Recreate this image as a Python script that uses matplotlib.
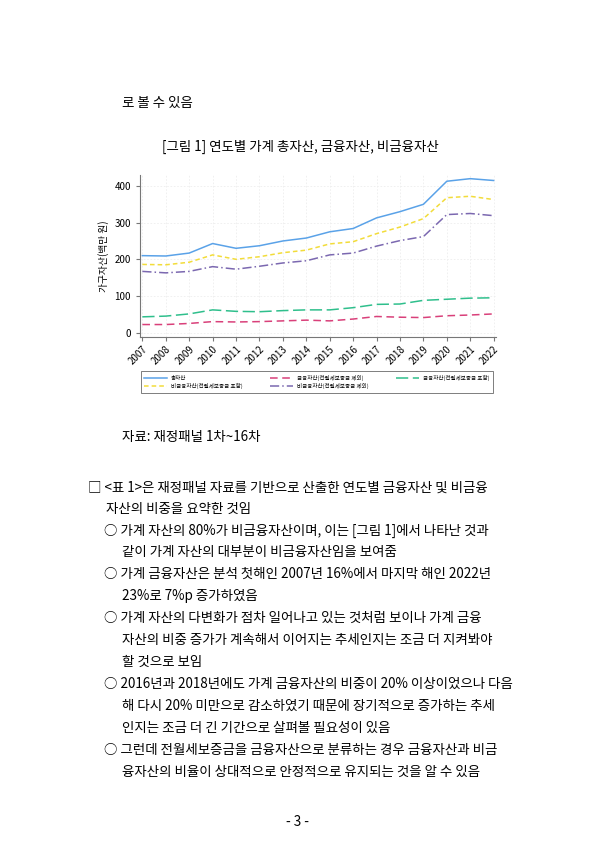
import matplotlib
matplotlib.use("Agg")
import matplotlib.pyplot as plt

plt.rcParams['font.family'] = ['Noto Sans CJK KR', 'DejaVu Sans']

years = list(range(2007, 2023))
total = [210,209,217,243,230,237,250,258,275,284,313,330,350,413,420,415]
fin_excl = [22,22,25,30,29,30,32,34,32,37,44,42,41,46,48,51]
fin_incl = [43,45,51,62,58,57,60,62,62,68,77,78,88,91,94,95]
nonfin_incl = [186,185,192,212,200,207,218,225,242,248,270,288,311,368,372,363]
nonfin_excl = [167,163,167,180,173,181,190,196,212,217,236,251,262,322,325,319]
labels = ['총자산', '금융자산(전월세보증금 제외)', '금융자산(전월세보증금 포함)',
          '비금융자산(전월세보증금 포함)', '비금융자산(전월세보증금 제외)']

W, H = 596, 842
fig = plt.figure(figsize=(W/100, H/100), dpi=100)
fig.patch.set_facecolor('white')

def T(x, y, s, size=9.7, **kw):
    fig.text(x/W, 1-y/H, s, fontsize=size, va='center', ha=kw.pop('ha', 'left'), **kw)

T(122, 103, '로 볼 수 있음')
T(300, 147, '[그림 1] 연도별 가계 총자산, 금융자산, 비금융자산', ha='center')

ax = fig.add_axes([140/W, 1-337/H, 356/W, 162/H])
h0, = ax.plot(years, total, color='#5aa2e8', lw=1.1, label=labels[0])
h1, = ax.plot(years, fin_excl, color='#d9407a', lw=1.1, ls=(0, (5, 3)), label=labels[1])
h2, = ax.plot(years, fin_incl, color='#2fbf8c', lw=1.1, ls=(0, (8, 3)), label=labels[2])
h3, = ax.plot(years, nonfin_incl, color='#f2dc3a', lw=1.1, ls=(0, (3, 2)), label=labels[3])
h4, = ax.plot(years, nonfin_excl, color='#7b68b0', lw=1.1, ls=(0, (6, 2, 1, 2)), label=labels[4])
ax.set_xlim(2006.9, 2022.1)
ax.set_ylim(-12, 430)
ax.set_yticks([0, 100, 200, 300, 400])
ax.set_xticks(years)
ax.set_xticklabels([str(y) for y in years], rotation=45, ha='right', rotation_mode='anchor', fontsize=7)
ax.tick_params(axis='both', length=3, color='#777777')
ax.tick_params(axis='y', labelsize=7)
ax.tick_params(axis='x', pad=2)
ax.grid(True, color='#eeeeee', lw=0.6, ls=(0, (2, 2)))
for s in ['top', 'right']:
    ax.spines[s].set_visible(False)
for s in ['left', 'bottom']:
    ax.spines[s].set_color('#777777')
ax.set_ylabel('가구자산(백만 원)', fontsize=7)

hs = [h0, h3, h1, h4, h2]
leg = fig.legend(hs, [h.get_label() for h in hs], loc='center', bbox_to_anchor=(317/W, 1-382/H),
                 ncol=3, fontsize=4, frameon=True, fancybox=False, edgecolor='#444444',
                 handlelength=4, columnspacing=5, borderpad=0.6)
leg.get_frame().set_linewidth(0.6)

T(122, 437, '자료: 재정패널 1차~16차')
lines = [
    (88, 488, '□ <표 1>은 재정패널 자료를 기반으로 산출한 연도별 금융자산 및 비금융'),
    (106, 509, '자산의 비중을 요약한 것임'),
    (104, 531, '○ 가계 자산의 80%가 비금융자산이며, 이는 [그림 1]에서 나타난 것과'),
    (122, 552, '같이 가계 자산의 대부분이 비금융자산임을 보여줌'),
    (104, 574, '○ 가계 금융자산은 분석 첫해인 2007년 16%에서 마지막 해인 2022년'),
    (122, 596, '23%로 7%p 증가하였음'),
    (104, 618, '○ 가계 자산의 다변화가 점차 일어나고 있는 것처럼 보이나 가계 금융'),
    (122, 640, '자산의 비중 증가가 계속해서 이어지는 추세인지는 조금 더 지켜봐야'),
    (122, 662, '할 것으로 보임'),
    (104, 684, '○ 2016년과 2018년에도 가계 금융자산의 비중이 20% 이상이었으나 다음'),
    (122, 706, '해 다시 20% 미만으로 감소하였기 때문에 장기적으로 증가하는 추세'),
    (122, 728, '인지는 조금 더 긴 기간으로 살펴볼 필요성이 있음'),
    (104, 750, '○ 그런데 전월세보증금을 금융자산으로 분류하는 경우 금융자산과 비금'),
    (122, 772, '융자산의 비율이 상대적으로 안정적으로 유지되는 것을 알 수 있음'),
]
for x, y, s in lines:
    T(x, y, s)
T(298, 822, '- 3 -', ha='center')

fig.savefig('out.png', dpi=100, facecolor='white')
